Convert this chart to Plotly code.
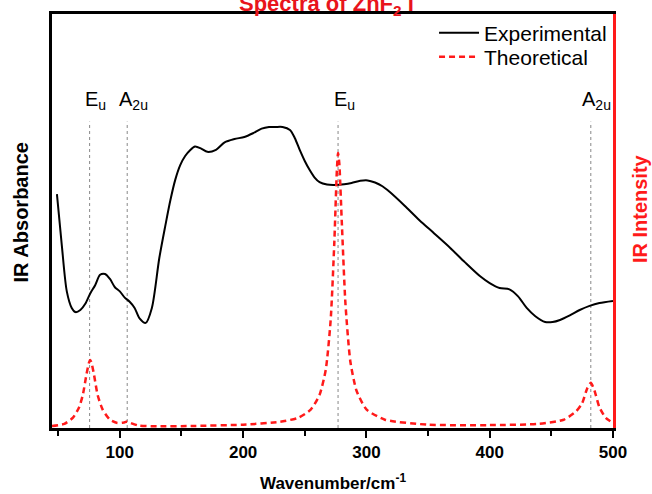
import plotly.graph_objects as go

# Experimental spectrum (wavenumber, absorbance in relative units)
exp_x = [49, 53, 57, 61, 64, 68, 72, 76, 80, 84, 88, 92, 96, 100, 104, 108, 112, 116, 121,
         126, 132, 137, 141, 145, 149, 153, 157, 161, 166, 171, 178, 185, 193, 201, 208,
         215, 221, 226, 232, 238, 242, 246, 250, 254, 258, 262, 268, 274, 282, 288, 295,
         301, 307, 313, 319, 331, 343, 355, 368, 380, 392, 400, 408, 416, 423, 430, 437,
         445, 451, 457, 465, 473, 481, 489, 500]
exp_y = [0.565, 0.44, 0.33, 0.29, 0.28, 0.285, 0.3, 0.325, 0.345, 0.37, 0.372, 0.36, 0.34,
         0.33, 0.315, 0.305, 0.29, 0.265, 0.254, 0.29, 0.41, 0.49, 0.55, 0.60, 0.635, 0.657,
         0.671, 0.68, 0.675, 0.667, 0.672, 0.69, 0.698, 0.703, 0.712, 0.723, 0.727, 0.727,
         0.727, 0.72, 0.70, 0.671, 0.645, 0.623, 0.605, 0.594, 0.588, 0.587, 0.589, 0.592,
         0.597, 0.598, 0.593, 0.584, 0.57, 0.537, 0.502, 0.47, 0.435, 0.40, 0.367, 0.35,
         0.338, 0.335, 0.318, 0.29, 0.27, 0.256, 0.256, 0.261, 0.272, 0.285, 0.295, 0.302,
         0.307]

# Theoretical spectrum (wavenumber, relative intensity)
th_x = [45, 55, 62, 67, 70, 73, 75, 76, 77, 79, 82, 86, 92, 98, 103, 106, 109, 115, 130,
        160, 200, 230, 245, 255, 262, 267, 271, 274, 276, 277, 278, 280, 283, 287, 292,
        300, 315, 350, 400, 440, 460, 470, 475, 479, 482, 485, 489, 494, 500]
th_y = [0.005, 0.01, 0.025, 0.05, 0.08, 0.13, 0.158, 0.164, 0.158, 0.13, 0.08, 0.045, 0.02,
        0.012, 0.013, 0.016, 0.012, 0.006, 0.004, 0.005, 0.008, 0.015, 0.025, 0.045, 0.08,
        0.14, 0.26, 0.45, 0.62, 0.664, 0.64, 0.5, 0.3, 0.16, 0.09, 0.045, 0.02, 0.008, 0.007,
        0.01, 0.02, 0.04, 0.06, 0.095, 0.109, 0.09, 0.05, 0.025, 0.012]

# Mode assignments
mode_x = [75.5, 106, 277, 482]
mode_labels = ["E<sub>u</sub>", "A<sub>2u</sub>", "E<sub>u</sub>", "A<sub>2u</sub>"]

x_ticks = [100, 200, 300, 400, 500]

FONT = "Liberation Sans, Arial, sans-serif"
RED = "#ff1a1a"

fig = go.Figure()
fig.add_trace(go.Scatter(x=exp_x, y=exp_y, mode="lines", name="Experimental",
                         legend="legend",
                         line=dict(color="black", width=2, shape="spline", smoothing=0.8)))
fig.add_trace(go.Scatter(x=th_x, y=th_y, mode="lines", name="Theoretical", yaxis="y2",
                         legend="legend2",
                         line=dict(color=RED, width=2.5, dash="6px,4px", shape="spline",
                                   smoothing=0.6)))

for mx, lab in zip(mode_x, mode_labels):
    fig.add_shape(type="line", xref="x", yref="paper", x0=mx, x1=mx, y0=0, y1=0.74,
                  line=dict(color="#888888", width=1, dash="dot"), layer="below")
    fig.add_annotation(x=mx, xref="x", y=0.826, yref="paper", text=lab, showarrow=False,
                       xanchor="center", xshift=6,
                       font=dict(family=FONT, size=20, color="black"))

# partially visible title at the top edge
fig.add_annotation(x=0.49, xref="paper", y=1.0, yref="paper", yanchor="bottom", yshift=-7,
                   text="<b>Spectra of ZnF<sub>2</sub> I</b>", showarrow=False,
                   font=dict(family=FONT, size=22, color="#e8141c"))

# axis titles
fig.add_annotation(x=0.5, xref="paper", y=-0.13, yref="paper", yanchor="middle",
                   text="<b>Wavenumber/cm<sup>-1</sup></b>", showarrow=False,
                   font=dict(family=FONT, size=17, color="black"))
fig.add_annotation(x=-0.055, xref="paper", y=0.521, yref="paper", xanchor="center",
                   yanchor="middle", textangle=-90, text="<b>IR Absorbance</b>",
                   showarrow=False, font=dict(family=FONT, size=20, color="black"))
fig.add_annotation(x=1.048, xref="paper", y=0.531, yref="paper", xanchor="center",
                   yanchor="middle", textangle=-90, text="<b>IR Intensity</b>",
                   showarrow=False, font=dict(family=FONT, size=20, color=RED))

leg_common = dict(xanchor="left", yanchor="middle", bgcolor="rgba(0,0,0,0)",
                  font=dict(size=21, family=FONT), itemwidth=40)

fig.update_layout(
    width=652, height=494,
    margin=dict(l=52, r=39, t=14, b=66, autoexpand=False),
    paper_bgcolor="white", plot_bgcolor="white",
    font=dict(family=FONT, color="black"),
    showlegend=True,
    legend=dict(x=0.681, y=0.954, **leg_common),
    legend2=dict(x=0.681, y=0.896, **leg_common),
    xaxis=dict(range=[45, 500], showgrid=False, zeroline=False, automargin=False,
               showline=True, linecolor="black", linewidth=3, mirror=True,
               ticks="outside", ticklen=7, tickwidth=2, tickcolor="black",
               tickvals=x_ticks, ticktext=[f"<b>{t}</b>" for t in x_ticks],
               tickfont=dict(size=17, family=FONT),
               minor=dict(tickvals=[50, 150, 250, 350, 450], ticks="outside", ticklen=5,
                          tickwidth=2, tickcolor="black")),
    yaxis=dict(range=[0, 1], showgrid=False, zeroline=False, showticklabels=False,
               automargin=False, showline=True, linecolor="black", linewidth=3, ticks=""),
    yaxis2=dict(range=[0, 1], overlaying="y", side="right", showgrid=False, zeroline=False,
                automargin=False, showticklabels=False, showline=True, linecolor=RED,
                linewidth=3, ticks=""),
)

fig.write_html("out.html", config={"displayModeBar": False},
               post_script="document.body.style.margin='0';")
